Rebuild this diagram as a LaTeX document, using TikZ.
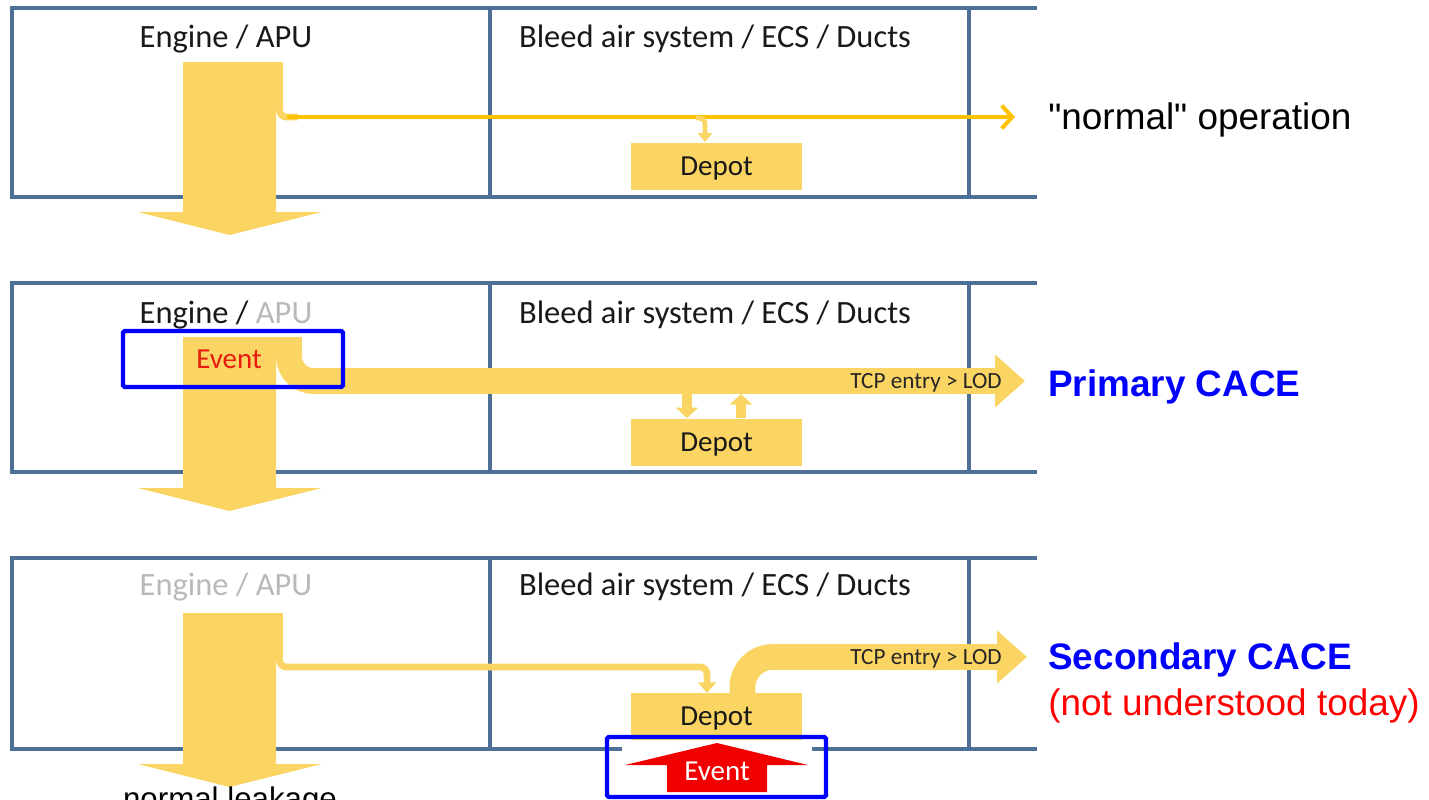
\documentclass[tikz,border=0pt]{standalone}
\usepackage{fontspec}
\setmainfont{Carlito}
\newfontfamily\arialfont{Liberation Sans}
\usetikzlibrary{arrows.meta}

\definecolor{frameblue}{RGB}{78,112,150}
\definecolor{flowyellow}{RGB}{251,213,99}
\definecolor{flowgold}{RGB}{255,194,0}
\definecolor{apugray}{RGB}{185,185,185}
\definecolor{eventred}{RGB}{232,27,14}

\begin{document}
\begin{tikzpicture}[x=0.02cm, y=-0.02cm]

\tikzstyle{frame_line} = [draw=frameblue, line width=2.3pt]
\tikzstyle{title_text} = [font=\fontsize{18.5}{21}\selectfont, text=black!90, inner sep=0pt, text depth=0pt]
\tikzstyle{depot_box} = [fill=flowyellow, minimum width=3.42cm, minimum height=0.94cm, inner sep=0pt, text depth=0pt, font=\fontsize{16.5}{19}\selectfont, text=black!90]
\tikzstyle{tcp_text} = [font=\fontsize{13.2}{15}\selectfont, text=black!85, inner sep=0pt, text depth=0pt]
\tikzstyle{side_label} = [font=\arialfont\fontsize{21}{25}\selectfont, anchor=west, inner sep=0pt, text depth=0pt]
\tikzstyle{event_box} = [draw=blue, line width=2.5pt, rounded corners=1pt]
\tikzstyle{big_arrow} = [fill=flowyellow]
\tikzstyle{band} = [draw=flowyellow, line width=14.7pt, -{Triangle[length=17pt, width=29pt]}]
\tikzstyle{strip} = [draw=flowyellow, line width=3.9pt, rounded corners=4pt]
\tikzstyle{thin_flow} = [draw=flowgold, line width=2.3pt, -{Straight Barb[length=6pt, width=13pt]}]
\tikzstyle{depot_flow} = [draw=flowyellow, line width=5.7pt, -{Triangle[length=6pt, width=12.5pt]}]

\useasboundingbox (0,0) rectangle (1429,799);
\clip (0,0) rectangle (1429,799);
\fill[white] (0,0) rectangle (1429,799);

%------------------------------------------------------------
% frames
	\draw[frame_line] (1037,8) -- (12,8) -- (12,197) -- (1037,197);
	\draw[frame_line] (490,8) -- (490,197);
	\draw[frame_line] (969,8) -- (969,197);

	\draw[frame_line] (1037,283) -- (12,283) -- (12,472) -- (1037,472);
	\draw[frame_line] (490,283) -- (490,472);
	\draw[frame_line] (969,283) -- (969,472);

	\draw[frame_line] (622,749) -- (12,749) -- (12,558) -- (1037,558);
	\draw[frame_line] (812,749) -- (1037,749);
	\draw[frame_line] (490,558) -- (490,749);
	\draw[frame_line] (969,558) -- (969,749);

%------------------------------------------------------------
% "normal" operation
	\node[title_text] (eng1) at (226,36) {Engine / APU};
	\node[title_text] (bleed1) at (715,36) {Bleed air system / ECS / Ducts};
	\node[depot_box] (depot1) at (716.5,166) {Depot};
	\node[side_label] (normal) at (1048,116) {"normal" operation};

	\coordinate (src1) at (279.5,62);
	\coordinate (bend1) at (298,117);
	\coordinate (tip1) at (1015,117);
	\coordinate (tap1) at (696,118);
	\coordinate (in1) at (705,142);

	\fill[big_arrow] (183,62) -- (276,62) -- (276,212) -- (322,212) -- (229.5,235) -- (138,212) -- (183,212) -- cycle;
	\draw[strip] (src1) |- (bend1);
	\draw[thin_flow] ([xshift=-6pt]bend1) -- (tip1);
	\draw[draw=flowyellow, line width=2.8pt, rounded corners=3pt, -{Triangle[length=5pt, width=8pt]}] (tap1) -| (in1);

%------------------------------------------------------------
% Primary CACE
	\node[title_text] (eng2) at (226,312) {Engine / \textcolor{apugray}{APU}};
	\node[title_text] (bleed2) at (715,312) {Bleed air system / ECS / Ducts};
	\node[depot_box] (depot2) at (716.5,442) {Depot};
	\node[side_label, font=\arialfont\bfseries\fontsize{21}{25}\selectfont, text=blue] (primary) at (1048,383) {Primary CACE};

	\coordinate (src2) at (289,337);
	\coordinate (tip2) at (1025,381);

	\fill[big_arrow] (183,337) -- (276,337) -- (276,488) -- (322,488) -- (229.5,511) -- (138,488) -- (183,488) -- cycle;
	\draw[band, rounded corners=14pt] (src2) |- (tip2);
	\node[tcp_text] (tcp2) at (926,381) {TCP entry > LOD};

	\coordinate (out2) at (687,394);
	\coordinate (back2) at (741,394);
	\draw[depot_flow] (out2) -- (depot2.north -| out2);
	\draw[depot_flow] (depot2.north -| back2) -- (back2);

	\node[font=\fontsize{16.5}{19}\selectfont, text=eventred] (event2) at (229,359) {Event};
	\draw[event_box] (123,331) rectangle (343,387);

%------------------------------------------------------------
% Secondary CACE
	\node[title_text, text=apugray] (eng3) at (226,584) {Engine / APU};
	\node[title_text] (bleed3) at (715,584) {Bleed air system / ECS / Ducts};
	\node[depot_box] (depot3) at (716.5,716.5) {Depot};
	\node[side_label, font=\arialfont\bfseries\fontsize{21}{25}\selectfont, text=blue] (secondary) at (1048,656) {Secondary CACE};
	\node[side_label, text=red] (today) at (1048,702) {(not understood today)};

	\coordinate (src3) at (279.5,613);
	\coordinate (turn3) at (707,667);
	\coordinate (in3) at (707,693);
	\coordinate (src3b) at (742.5,693);
	\coordinate (tip3) at (1027,657);

	\fill[big_arrow] (183,613) -- (276,613) -- (276,764) -- (322,764) -- (229.5,787) -- (138,764) -- (183,764) -- cycle;
	\draw[strip, -{Triangle[length=6pt, width=10pt]}] (src3) |- (turn3) -- (in3);
	\draw[band, rounded corners=17pt] (src3b) |- (tip3);
	\node[tcp_text] (tcp3) at (926,657) {TCP entry > LOD};

	\fill[red!95!black] (667,792) -- (767,792) -- (767,765) -- (808,765) -- (717,743) -- (625,765) -- (667,765) -- cycle;
	\node[font=\fontsize{16.5}{19}\selectfont, text=white] (event3) at (717,771) {Event};
	\draw[event_box] (607,737) rectangle (826,797);

	\node[font=\arialfont\fontsize{17.8}{21}\selectfont, anchor=base] (leak) at (230,809) {normal leakage};

\end{tikzpicture}
\end{document}
